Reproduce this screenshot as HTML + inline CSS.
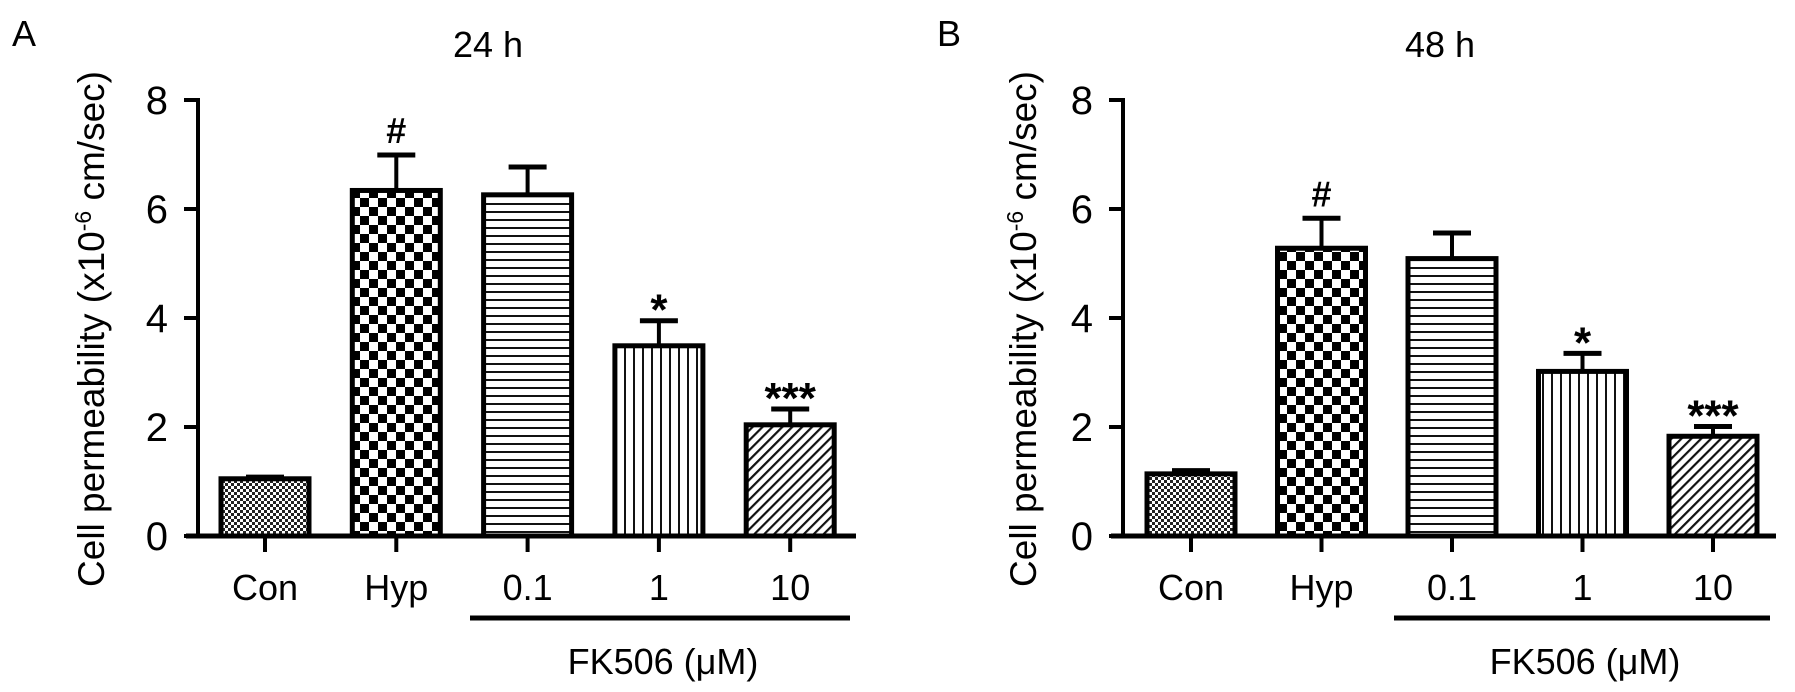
<!DOCTYPE html>
<html><head><meta charset="utf-8"><style>
html,body{margin:0;padding:0;background:#fff}
svg{display:block;font-family:"Liberation Sans",Arial,sans-serif}
</style></head><body>
<svg id="chart" width="1795" height="692" viewBox="0 0 1795 692" xmlns="http://www.w3.org/2000/svg">
<defs>
<pattern id="pCon" width="6" height="6" patternUnits="userSpaceOnUse"><rect width="6" height="6" fill="#fff"/><rect width="3" height="3" fill="#222"/><rect x="3" y="3" width="3" height="3" fill="#222"/></pattern>
<pattern id="pHyp" width="18" height="18" patternUnits="userSpaceOnUse"><rect width="18" height="18" fill="#fff"/><rect width="9" height="9" fill="#000"/><rect x="9" y="9" width="9" height="9" fill="#000"/></pattern>
<pattern id="pH" width="10" height="8" patternUnits="userSpaceOnUse"><rect width="10" height="8" fill="#fff"/><rect y="3" width="10" height="2" fill="#111"/></pattern>
<pattern id="pV" width="9" height="10" patternUnits="userSpaceOnUse"><rect width="9" height="10" fill="#fff"/><rect x="3" width="2" height="10" fill="#111"/></pattern>
<pattern id="pD" width="7" height="7" patternUnits="userSpaceOnUse" patternTransform="rotate(45)"><rect width="7" height="7" fill="#fff"/><rect width="2.2" height="7" fill="#111"/></pattern>
</defs>
</svg>
<script>
const categories = ["Con","Hyp","0.1","1","10"];
const valuesA = [1.05, 6.34, 6.26, 3.49, 2.04];
const errorsA = [0.03, 0.65, 0.51, 0.46, 0.29];
const valuesB = [1.14, 5.28, 5.09, 3.02, 1.83];
const errorsB = [0.06, 0.55, 0.47, 0.33, 0.18];
const marks = ["", "#", "", "*", "***"];
const yTicks = [0, 2, 4, 6, 8];
const patterns = ["pCon","pHyp","pH","pV","pD"];

const NS = "http://www.w3.org/2000/svg";
const svg = document.getElementById('chart');
function el(tag, attrs, parent, text){
  const e = document.createElementNS(NS, tag);
  for (const k in attrs) e.setAttribute(k, attrs[k]);
  if (text !== undefined) e.textContent = text;
  (parent||svg).appendChild(e);
  return e;
}

function panel(cfg){
  const g = el('g', {});
  
  
  const y0 = 536, yTop = 100;
  const y = v => y0 - (v / 8) * (y0 - yTop);
  const x = i => cfg.firstTick + i * cfg.step;

  const lt = el('text', {x: cfg.letterX, y: 46, 'font-size': 36}, g, cfg.letter);
  
  
  const tt = el('text', {x: cfg.titleX, y: 57, 'font-size': 36, 'text-anchor': 'middle'}, g, cfg.title);
  
  

  const yt = el('text', {transform: `translate(${cfg.ytitleX},329) rotate(-90)`, 'font-size': 37, 'text-anchor': 'middle'}, g);
  
  
  el('tspan', {}, yt, 'Cell permeability (x10');
  el('tspan', {dy: -13, 'font-size': 23}, yt, '-6');
  el('tspan', {dy: 13}, yt, ' cm/sec)');

  categories.forEach((c, i) => {
    const v = cfg.values[i], e = cfg.errors[i];
    const cx = x(i), w = 88;
    const er = el('line', {x1: cx, x2: cx, y1: y(v), y2: y(v+e), stroke: '#000', 'stroke-width': 4}, g);
    
    
    const cap = el('line', {x1: cx-19, x2: cx+19, y1: y(v+e), y2: y(v+e), stroke: '#000', 'stroke-width': 5}, g);
    
    
    const b = el('rect', {x: cx - w/2, y: y(v), width: w, height: y0 - y(v), fill: `url(#${patterns[i]})`, stroke: '#000', 'stroke-width': 5}, g);
    
    
    if (marks[i]) {
      const isHash = marks[i]==='#';
      const m = el('text', {x: cx, y: isHash ? y(v+e) - 12 : y(v+e) + 4, 'font-size': isHash ? 36 : 44, 'font-weight': 'bold', 'text-anchor': 'middle'}, g, marks[i]);
      
      
    }
    const tk = el('line', {x1: cx, x2: cx, y1: y0, y2: y0+16, stroke: '#000', 'stroke-width': 4}, g);
    
    
    const lb = el('text', {x: cx, y: 600, 'font-size': 36, 'text-anchor': 'middle'}, g, c);
    
    
  });

  const ya = el('line', {x1: cfg.axisX, x2: cfg.axisX, y1: yTop-2, y2: y0, stroke: '#000', 'stroke-width': 4}, g);
  
  
  yTicks.forEach(t => {
    const tl = el('line', {x1: cfg.axisX-14, x2: cfg.axisX, y1: y(t), y2: y(t), stroke: '#000', 'stroke-width': 4}, g);
    
    
    const tx = el('text', {x: cfg.axisX-30, y: y(t)+14, 'font-size': 40, 'text-anchor': 'end'}, g, t);
    
    
  });
  const xa = el('line', {x1: cfg.axisX-12, x2: cfg.xEnd, y1: y0, y2: y0, stroke: '#000', 'stroke-width': 5}, g);
  
  

  const fl = el('line', {x1: cfg.fkStart, x2: cfg.xEnd - 6, y1: 618, y2: 618, stroke: '#000', 'stroke-width': 5}, g);
  
  
  const ft = el('text', {x: (cfg.fkStart + cfg.xEnd)/2, y: 674, 'font-size': 36, 'text-anchor': 'middle'}, g, 'FK506 (\u03bcM)');
  
  
}

panel({letter:'A', letterX:12, title:'24 h', titleX:488, ytitleX:104, axisX:198, firstTick:265, step:131.3, xEnd:856, fkStart:470, values:valuesA, errors:errorsA});
panel({letter:'B', letterX:937, title:'48 h', titleX:1440, ytitleX:1036, axisX:1123, firstTick:1191, step:130.5, xEnd:1776, fkStart:1394, values:valuesB, errors:errorsB});
</script>
</body></html>
